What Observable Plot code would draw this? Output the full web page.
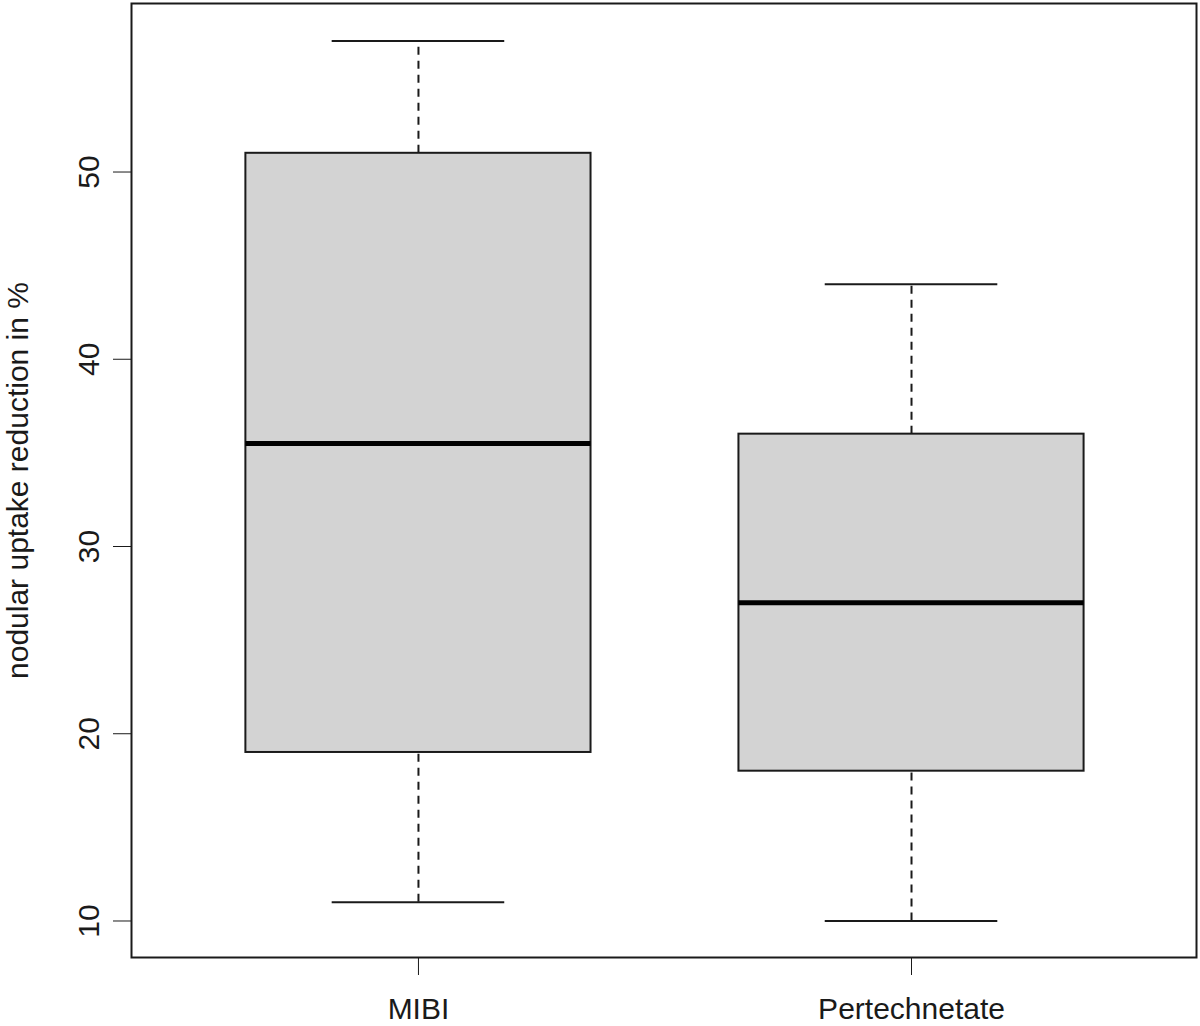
<!DOCTYPE html>
<html>
<head>
<meta charset="utf-8">
<script src="https://cdn.jsdelivr.net/npm/d3@7"></script>
<script src="https://cdn.jsdelivr.net/npm/@observablehq/plot@0.6"></script>
<style>
  html, body { margin: 0; padding: 0; background: #fff; }
  #chart svg { display: block; }
</style>
</head>
<body>
<div id="chart"></div>
<script>
// Data
const categories = ["MIBI", "Pertechnetate"];
const whiskerLow = [11, 10];
const q1 = [19, 18];
const median = [35.5, 27];
const q3 = [51, 36];
const whiskerHigh = [57, 44];
const yTicks = [10, 20, 30, 40, 50];
const yLabel = "nodular uptake reduction in %";

const boxHalf = 0.35;   // half box width (in category units)
const capHalf = 0.175;  // half staple width

const rows = categories.map((c, i) => ({
  cat: c, pos: i + 1,
  lo: whiskerLow[i], q1: q1[i], med: median[i], q3: q3[i], hi: whiskerHigh[i]
}));

const ink = "#1a1a1a";
const font = "'Liberation Sans', Arial, Helvetica, sans-serif";

const chart = Plot.plot({
  width: 1200,
  height: 1026,
  marginLeft: 131,
  marginRight: 4,
  marginTop: 3,
  marginBottom: 69,
  style: { fontFamily: font, fontSize: "30px", color: ink, background: "#fff" },
  x: { type: "linear", domain: [0.418, 2.578] },
  y: { domain: [8.05, 59.0] },
  marks: [
    // whiskers (dashed)
    Plot.ruleX(rows, { x: "pos", y1: "q3", y2: "hi", stroke: ink, strokeWidth: 2, strokeDasharray: "8,6" }),
    Plot.ruleX(rows, { x: "pos", y1: "lo", y2: "q1", stroke: ink, strokeWidth: 2, strokeDasharray: "8,6" }),
    // staples
    Plot.ruleY(rows, { y: "hi", x1: d => d.pos - capHalf, x2: d => d.pos + capHalf, stroke: ink, strokeWidth: 2 }),
    Plot.ruleY(rows, { y: "lo", x1: d => d.pos - capHalf, x2: d => d.pos + capHalf, stroke: ink, strokeWidth: 2 }),
    // boxes
    Plot.rect(rows, { x1: d => d.pos - boxHalf, x2: d => d.pos + boxHalf, y1: "q1", y2: "q3", fill: "#d3d3d3", stroke: ink, strokeWidth: 2 }),
    // medians
    Plot.ruleY(rows, { y: "med", x1: d => d.pos - boxHalf, x2: d => d.pos + boxHalf, stroke: "#000", strokeWidth: 5 }),
    // axes
    Plot.axisY({ ticks: yTicks, tickSize: 18, tickPadding: 15, tickRotate: -90, fontSize: 30, stroke: ink, fill: ink, label: null, tickFormat: d => String(d) }),
    Plot.text([yLabel], { text: d => d, frameAnchor: "left", textAnchor: "middle", dx: -113, rotate: -90, fontSize: 30, fill: ink }),
    Plot.axisX({ ticks: [1, 2], tickSize: 18, tickPadding: 22, fontSize: 30, stroke: ink, fill: ink, label: null, tickFormat: d => categories[d - 1] }),
    Plot.frame({ stroke: ink, strokeWidth: 2 })
  ]
});

document.getElementById("chart").appendChild(chart);
</script>
</body>
</html>
